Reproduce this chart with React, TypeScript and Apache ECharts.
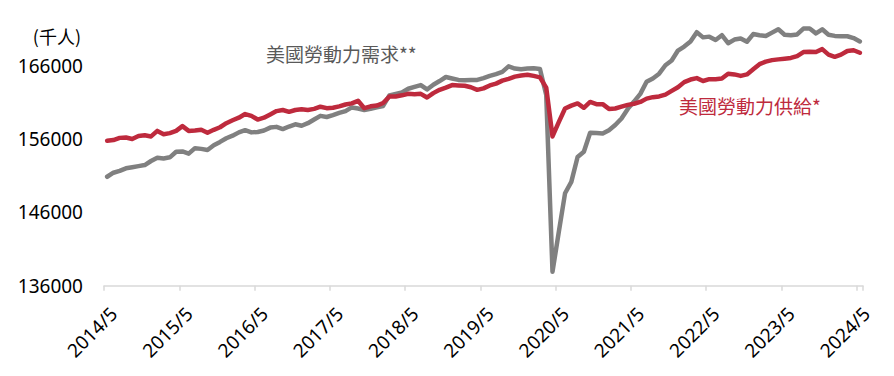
import React, { useEffect, useRef } from "react";
import * as echarts from "echarts";

// Monthly categories 2014/5 .. 2024/5
const startYear = 2014;
const startMonth = 5;
const monthCount = 121;
const categories: string[] = [];
for (let k = 0; k < monthCount; k++) {
  const m = startMonth - 1 + k;
  categories.push(`${startYear + Math.floor(m / 12)}/${(m % 12) + 1}`);
}

// 美國勞動力需求** (千人), gray
const demand2014 = [150850, 151400, 151650, 152000, 152150, 152300, 152450, 153000];
const demand2015 = [153450, 153350, 153500, 154250, 154300, 154000, 154750, 154650, 154500, 155150, 155600, 156100];
const demand2016 = [156450, 156900, 157200, 156900, 156950, 157150, 157550, 157650, 157350, 157700, 158000, 157800];
const demand2017 = [158150, 158650, 159150, 159000, 159250, 159550, 159800, 160300, 160150, 159950, 160100, 160300];
const demand2018 = [160500, 161950, 162150, 162350, 162850, 163100, 163350, 162750, 163400, 163900, 164450, 164250];
const demand2019 = [164050, 164000, 164050, 164050, 164300, 164600, 164850, 165150, 165900, 165600, 165500, 165600];
const demand2020 = [165650, 165550, 162000, 137900, 143300, 148600, 150150, 153550, 154250, 156850, 156800, 156750];
const demand2021 = [157200, 157900, 158800, 160100, 161100, 162150, 163800, 164250, 164900, 166050, 166700, 168050];
const demand2022 = [168600, 169300, 170550, 169850, 169950, 169500, 170150, 169050, 169550, 169700, 169250, 170300];
const demand2023 = [170150, 170030, 170500, 170950, 170200, 170150, 170250, 171050, 171050, 170400, 170950, 170200];
const demand2024 = [170050, 170000, 170000, 169750, 169300];

// 美國勞動力供給* (千人), red
const supply2014 = [155750, 155850, 156150, 156200, 156000, 156400, 156500, 156350];
const supply2015 = [157100, 156650, 156800, 157100, 157750, 157100, 157150, 157250, 156850, 157250, 157600, 158150];
const supply2016 = [158550, 158900, 159400, 159150, 158650, 158900, 159350, 159800, 159950, 159700, 159950, 160050];
const supply2017 = [159950, 160100, 160400, 160200, 160250, 160450, 160700, 160850, 161200, 160200, 160450, 160550];
const supply2018 = [160900, 161800, 161800, 161950, 162150, 162100, 162150, 161650, 162250, 162700, 163000, 163350];
const supply2019 = [163300, 163250, 163050, 162700, 162900, 163300, 163550, 163950, 164200, 164500, 164650, 164750];
const supply2020 = [164600, 164400, 163000, 156350, 158300, 160150, 160550, 160850, 160250, 161050, 160750, 160750];
const supply2021 = [160100, 160150, 160400, 160650, 160800, 161050, 161500, 161700, 161800, 162050, 162550, 163050];
const supply2022 = [163750, 164100, 164300, 163900, 164150, 164150, 164250, 164900, 164800, 164600, 164800, 165500];
const supply2023 = [166200, 166550, 166750, 166850, 166950, 167050, 167300, 167850, 167900, 167850, 168250, 167500];
const supply2024 = [167200, 167500, 168000, 168100, 167750];

const demand = [
  ...demand2014, ...demand2015, ...demand2016, ...demand2017, ...demand2018, ...demand2019,
  ...demand2020, ...demand2021, ...demand2022, ...demand2023, ...demand2024,
];
const supply = [
  ...supply2014, ...supply2015, ...supply2016, ...supply2017, ...supply2018, ...supply2019,
  ...supply2020, ...supply2021, ...supply2022, ...supply2023, ...supply2024,
];

const yMin = 136000;
const yMax = 172000;
const yStep = 10000;

const demandName = "美國勞動力需求**";
const supplyName = "美國勞動力供給*";
const unitLabel = "(千人)";

const GRAY = "#808080";
const RED = "#BE2A3D";
const CJK = "'Noto Sans CJK TC', 'Noto Sans', sans-serif";
const LATIN = "'Noto Sans', 'Noto Sans CJK TC', sans-serif";

export default function App() {
  const ref = useRef<HTMLDivElement>(null);
  useEffect(() => {
    if (!ref.current) return;
    const chart = echarts.init(ref.current, null, { renderer: "svg" });
    chart.setOption({
      animation: false,
      backgroundColor: "#ffffff",
      grid: { left: 104, right: 31, top: 21.6, bottom: 90.3, containLabel: false },
      xAxis: {
        type: "category",
        data: categories,
        boundaryGap: true,
        axisLine: { show: true, lineStyle: { color: "#D9D9D9", width: 1.5 } },
        axisTick: { show: true, interval: 11, length: 5, lineStyle: { color: "#D9D9D9", width: 1.5 } },
        axisLabel: {
          interval: 11,
          rotate: 45,
          align: "right",
          verticalAlign: "top",
          margin: 18,
          fontSize: 19,
          color: "#000000",
          fontFamily: LATIN,
        },
        splitLine: { show: false },
      },
      yAxis: {
        type: "value",
        min: yMin,
        max: yMax,
        interval: yStep,
        axisLine: { show: false },
        axisTick: { show: false },
        splitLine: { show: false },
        axisLabel: {
          showMaxLabel: false,
          margin: 21,
          fontSize: 19,
          color: "#000000",
          fontFamily: LATIN,
          formatter: (v: number) => String(v),
        },
      },
      graphic: [
        {
          type: "text",
          right: 894 - 81,
          top: 27,
          style: { text: unitLabel, fontSize: 18, fill: "#000000", fontFamily: CJK },
        },
        {
          type: "text",
          left: 266,
          top: 44,
          style: { text: demandName, fontSize: 19, fill: "#595959", fontFamily: CJK },
        },
        {
          type: "text",
          left: 679,
          top: 96,
          style: { text: supplyName, fontSize: 19, fill: RED, fontFamily: CJK },
        },
      ],
      series: [
        {
          name: demandName,
          type: "line",
          data: demand,
          symbol: "none",
          clip: false,
          lineStyle: { color: GRAY, width: 4.5, cap: "round", join: "round" },
          z: 2,
        },
        {
          name: supplyName,
          type: "line",
          data: supply,
          symbol: "none",
          clip: false,
          lineStyle: { color: RED, width: 4.5, cap: "round", join: "round" },
          z: 3,
        },
      ],
    });
    return () => chart.dispose();
  }, []);
  return (
    <div
      ref={ref}
      style={{ position: "fixed", left: 0, top: 0, width: 894, height: 376, background: "#fff" }}
    />
  );
}
